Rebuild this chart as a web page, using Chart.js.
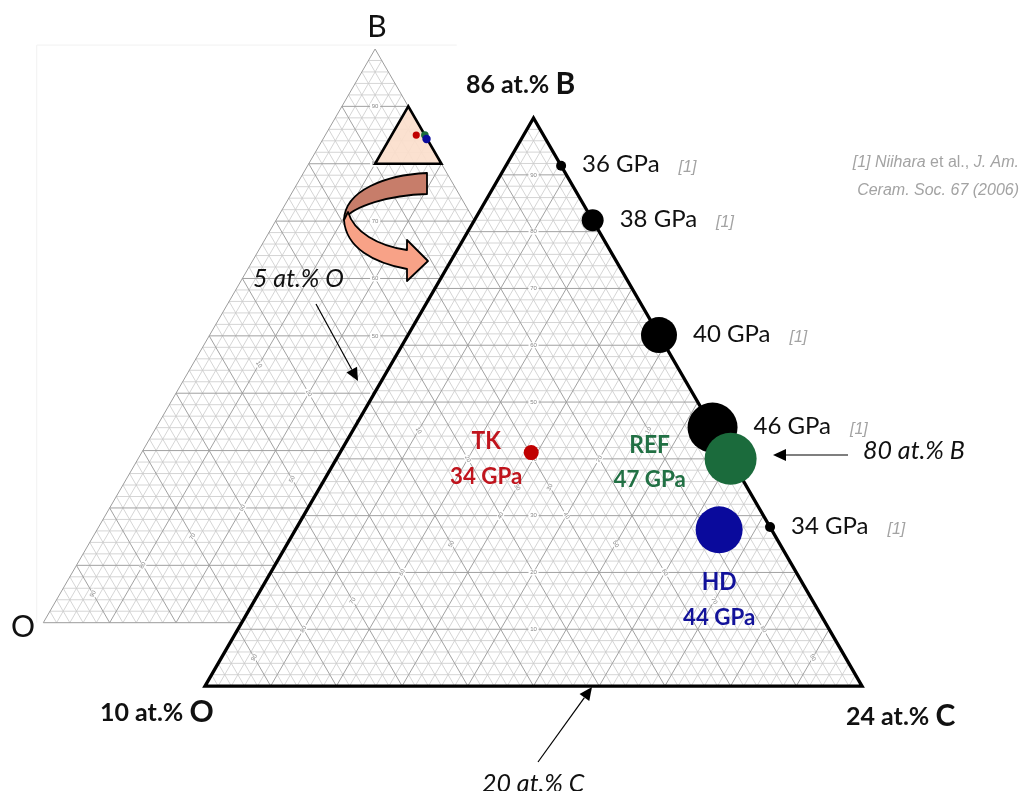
<!DOCTYPE html>
<html>
<head>
<meta charset="utf-8">
<script src="https://cdn.jsdelivr.net/npm/chart.js@4.4.1/dist/chart.umd.min.js"></script>
<style>
html, body { margin: 0; padding: 0; background: #fff; }
#wrap { width: 1023px; height: 791px; }
</style>
</head>
<body>
<div id="wrap"><canvas id="c"></canvas></div>
<script>
// zoomed window shown by the big triangle (at.%): B 76..86, C 14..24, O 0..10
const winB0 = 76, winC0 = 14, winO0 = 0, winSpan = 10;

// literature hardness values [1]
const refHardness = [36, 38, 40, 46, 34];
const refB = [85.16, 84.2, 82.18, 80.55, 78.8];
const refC = [14.84, 15.8, 17.82, 19.45, 21.2];
const refO = [0, 0, 0, 0, 0];

// this work
const sampleNames = ['TK', 'REF', 'HD'];
const sampleHardness = [34, 47, 44];
const sampleB = [80.11, 80.0, 78.75];
const sampleC = [16.91, 20.0, 20.45];
const sampleO = [2.98, 0, 0.8];

// same samples as marked in the small overview triangle
const insetB = [85.0, 85.0, 84.3];
const insetC = [13.7, 15.0, 15.6];
const insetO = [1.3, 0, 0.1];

// grid tick labels
const gridTicks = [10, 20, 30, 40, 50, 60, 70, 80, 90];

// ---- layout / style ----
const SQ = Math.sqrt(3) / 2;
const mainOrigin = [0, 0], mainSide = 100;
const ovOrigin = [-24.61, 9.66], ovSide = 101;
const refRadius = [5, 11, 18, 25, 5];
const sampleRadius = [7.5, 26, 23.5];
const sampleColors = ['#c00000', '#1b6b3c', '#0a0a9c'];
const sampleTextColors = ['#c0141d', '#217044', '#12129a'];
const sampleDx = [-45, -81, 0];
const sampleNameDy = [-4, -6, 60];
const sampleValDy = [31, 28, 95];
const insetRadius = [3.6, 3.8, 4.2];

function tern(origin, side, b, c) {
  return [origin[0] + side * (c + b / 2) / 100, origin[1] + side * b * SQ / 100];
}
function mainXY(B, C, O) {
  let b = (B - winB0) / winSpan * 100, c = (C - winC0) / winSpan * 100, o = (O - winO0) / winSpan * 100;
  const s = (b + c + o) / 100;
  return tern(mainOrigin, mainSide, b / s, c / s);
}
function ovXY(B, C, O) {
  const s = (B + C + O) / 100;
  return tern(ovOrigin, ovSide, B / s, C / s);
}

const refData = refB.map((b, i) => { const p = mainXY(refB[i], refC[i], refO[i]); return { x: p[0], y: p[1] }; });
const sampleData = sampleB.map((b, i) => { const p = mainXY(sampleB[i], sampleC[i], sampleO[i]); return { x: p[0], y: p[1] }; });
const insetData = insetB.map((b, i) => { const p = ovXY(insetB[i], insetC[i], insetO[i]); return { x: p[0], y: p[1] }; });

function txt(ctx, s, x, y, font, color, align, sx) {
  sx = sx || 1;
  ctx.save();
  ctx.font = font;
  ctx.fillStyle = color;
  ctx.textBaseline = 'alphabetic';
  const w = ctx.measureText(s).width * sx;
  let left = x;
  if (align === 'center') left = x - w / 2;
  else if (align === 'right') left = x - w;
  ctx.translate(left, y);
  ctx.scale(sx, 1);
  ctx.fillText(s, 0, 0);
  ctx.restore();
  return w;
}
function arrow(ctx, x1, y1, x2, y2) {
  const a = Math.atan2(y2 - y1, x2 - x1), L = 13, H = 6;
  ctx.save();
  ctx.strokeStyle = '#000'; ctx.fillStyle = '#000'; ctx.lineWidth = 1.2;
  ctx.beginPath();
  ctx.moveTo(x1, y1);
  ctx.lineTo(x2 - L * Math.cos(a), y2 - L * Math.sin(a));
  ctx.stroke();
  ctx.beginPath();
  ctx.moveTo(x2, y2);
  ctx.lineTo(x2 - L * Math.cos(a) - H * Math.sin(a), y2 - L * Math.sin(a) + H * Math.cos(a));
  ctx.lineTo(x2 - L * Math.cos(a) + H * Math.sin(a), y2 - L * Math.sin(a) - H * Math.cos(a));
  ctx.closePath();
  ctx.fill();
  ctx.restore();
}

function drawGrid(ctx, P, origin, side) {
  const T = (b, c) => P(tern(origin, side, b, c));
  const seg = (b1, c1, b2, c2) => { const a = T(b1, c1), d = T(b2, c2); ctx.moveTo(a[0], a[1]); ctx.lineTo(d[0], d[1]); };
  [false, true].forEach(major => {
    ctx.beginPath();
    for (let k = 2; k < 100; k += 2) {
      if ((k % 10 === 0) !== major) continue;
      seg(k, 0, k, 100 - k);
      seg(0, k, 100 - k, k);
      seg(0, 100 - k, 100 - k, 0);
    }
    ctx.strokeStyle = major ? '#9c9c9c' : '#cacaca';
    ctx.lineWidth = major ? 0.95 : 0.8;
    ctx.stroke();
  });
  ctx.beginPath();
  const A = T(100, 0), O = T(0, 0), C = T(0, 100);
  ctx.moveTo(A[0], A[1]); ctx.lineTo(O[0], O[1]); ctx.lineTo(C[0], C[1]); ctx.closePath();
  ctx.strokeStyle = '#9c9c9c'; ctx.lineWidth = 1; ctx.stroke();
  // small axis numbers along the three medians
  ctx.font = '6px "Liberation Sans"';
  ctx.textAlign = 'center'; ctx.textBaseline = 'middle';
  gridTicks.forEach(k => {
    const h = (100 - k) / 2;
    [[T(k, h), 0], [T(h, k), Math.PI / 3], [T(h, h), -Math.PI / 3]].forEach(([p, rot]) => {
      ctx.save();
      ctx.translate(p[0], p[1]); ctx.rotate(rot);
      ctx.fillStyle = '#fff'; ctx.fillRect(-5, -3, 10, 6);
      ctx.fillStyle = '#888'; ctx.fillText(String(k), 0, 0);
      ctx.restore();
    });
  });
}

const ternaryPlugin = {
  id: 'ternary',
  beforeDatasetsDraw(chart) {
    const ctx = chart.ctx, xs = chart.scales.x, ys = chart.scales.y;
    const P = q => [xs.getPixelForValue(q[0]), ys.getPixelForValue(q[1])];
    ctx.save();
    // faint frame of the overview picture
    const fr = P([ovOrigin[0] - 1, ovOrigin[1] + ovSide * SQ + 0.6]);
    const fb = P([ovOrigin[0] - 1, ovOrigin[1]]);
    ctx.strokeStyle = '#f1f1f1'; ctx.lineWidth = 1;
    ctx.beginPath(); ctx.moveTo(fb[0], fb[1]); ctx.lineTo(fr[0], fr[1]); ctx.lineTo(fr[0] + 420, fr[1]); ctx.stroke();

    drawGrid(ctx, P, ovOrigin, ovSide);

    // zoom window marked in the overview (B 80-90, C 10-20)
    const w1 = P(ovXY(90, 10, 0)), w2 = P(ovXY(80, 10, 10)), w3 = P(ovXY(80, 20, 0));
    ctx.beginPath(); ctx.moveTo(w1[0], w1[1]); ctx.lineTo(w2[0], w2[1]); ctx.lineTo(w3[0], w3[1]); ctx.closePath();
    ctx.fillStyle = 'rgba(251,222,204,0.92)'; ctx.fill();
    ctx.lineWidth = 2.6; ctx.strokeStyle = '#000'; ctx.lineJoin = 'miter'; ctx.stroke();

    // big triangle
    const B = P(tern(mainOrigin, mainSide, 100, 0)), O = P(tern(mainOrigin, mainSide, 0, 0)), C = P(tern(mainOrigin, mainSide, 0, 100));
    ctx.beginPath(); ctx.moveTo(B[0], B[1]); ctx.lineTo(O[0], O[1]); ctx.lineTo(C[0], C[1]); ctx.closePath();
    ctx.fillStyle = '#fff'; ctx.fill();
    drawGrid(ctx, P, mainOrigin, mainSide);
    ctx.beginPath(); ctx.moveTo(B[0], B[1]); ctx.lineTo(O[0], O[1]); ctx.lineTo(C[0], C[1]); ctx.closePath();
    ctx.lineWidth = 3.3; ctx.strokeStyle = '#000'; ctx.stroke();

    // curved arrow from the overview window to the big triangle
    ctx.lineWidth = 1.8; ctx.strokeStyle = '#000'; ctx.lineJoin = 'round';
    ctx.beginPath();
    ctx.moveTo(427, 173);
    ctx.bezierCurveTo(386, 175, 345, 190, 344, 220);
    ctx.bezierCurveTo(352, 206, 390, 195, 427, 194);
    ctx.closePath();
    ctx.fillStyle = '#c77d6a'; ctx.fill(); ctx.stroke();
    ctx.beginPath();
    ctx.moveTo(344, 220);
    ctx.bezierCurveTo(346, 248, 374, 263, 407, 269);
    ctx.lineTo(407, 281);
    ctx.lineTo(428, 261);
    ctx.lineTo(407, 240);
    ctx.lineTo(407, 250);
    ctx.bezierCurveTo(378, 246, 354, 232, 348, 212);
    ctx.closePath();
    ctx.fillStyle = '#f8a287'; ctx.fill(); ctx.stroke();
    ctx.restore();
  },
  afterDatasetsDraw(chart) {
    const ctx = chart.ctx, xs = chart.scales.x, ys = chart.scales.y;
    const P = q => [xs.getPixelForValue(q.x), ys.getPixelForValue(q.y)];
    const reg = '24px Lato', grey = '#a3a3a3', refFont = 'italic 16px "Liberation Sans"';
    // literature labels
    refData.forEach((d, i) => {
      const p = P(d);
      const x = p[0] + refRadius[i] + 16, y = p[1] + 6.5;
      const w = txt(ctx, refHardness[i] + ' GPa', x, y, reg, '#111');
      txt(ctx, '[1]', x + w + 19, y, refFont, grey);
    });
    // sample labels
    sampleData.forEach((d, i) => {
      const p = P(d);
      txt(ctx, sampleNames[i], p[0] + sampleDx[i], p[1] + sampleNameDy[i], 'bold 24px Lato', sampleTextColors[i], 'center', 0.95);
      txt(ctx, sampleHardness[i] + ' GPa', p[0] + sampleDx[i], p[1] + sampleValDy[i], 'bold 23px Lato', sampleTextColors[i], 'center', 0.97);
    });
    // corner labels
    let w = txt(ctx, '86 at.% ', 466, 93, 'bold 25px Lato', '#111');
    txt(ctx, 'B', 466 + w, 94, 'bold 30px Lato', '#111');
    w = txt(ctx, '10 at.% ', 100, 721, 'bold 25px Lato', '#111');
    txt(ctx, 'O', 100 + w, 722, 'bold 30px Lato', '#111');
    w = txt(ctx, '24 at.% ', 846, 725, 'bold 25px Lato', '#111');
    txt(ctx, 'C', 846 + w, 726, 'bold 30px Lato', '#111');
    txt(ctx, 'B', 377, 37, '30px Lato', '#111', 'center');
    txt(ctx, 'O', 11, 637, '30px Lato', '#111');
    // composition hints
    txt(ctx, '5 at.% O', 253, 287, 'italic 25px Lato', '#111');
    txt(ctx, '80 at.% B', 863, 459, 'italic 25px Lato', '#111');
    txt(ctx, '20 at.% C', 482, 792, 'italic 25px Lato', '#111');
    arrow(ctx, 316, 304, 358, 381);
    arrow(ctx, 848, 455, 773, 455);
    arrow(ctx, 538, 762, 592, 687);
    // reference
    const rf = 'italic 16px "Liberation Sans"', rn = '16px "Liberation Sans"';
    let x = 1019;
    x -= txt(ctx, 'J. Am.', x, 167, rf, grey, 'right');
    x -= txt(ctx, ' et al., ', x, 167, rn, grey, 'right');
    txt(ctx, '[1] Niihara', x, 167, rf, grey, 'right');
    txt(ctx, 'Ceram. Soc. 67 (2006)', 1019, 195, rf, grey, 'right');
  }
};

new Chart(document.getElementById('c'), {
  type: 'scatter',
  data: {
    datasets: [
      { label: 'overview', data: insetData, pointRadius: insetRadius, backgroundColor: sampleColors, borderWidth: 0 },
      { label: 'this work', data: sampleData, pointRadius: sampleRadius, backgroundColor: sampleColors, borderWidth: 0 },
      { label: 'Niihara [1]', data: refData, pointRadius: refRadius, backgroundColor: '#000', borderWidth: 0 }
    ]
  },
  options: {
    responsive: true,
    maintainAspectRatio: false,
    animation: false,
    events: [],
    layout: { padding: 0, autoPadding: false },
    scales: {
      x: { type: 'linear', min: -31.2, max: 124.5, display: false },
      y: { type: 'linear', min: -16, max: 104.6, display: false }
    },
    plugins: { legend: { display: false }, tooltip: { enabled: false } }
  },
  plugins: [ternaryPlugin]
});
</script>
</body>
</html>
